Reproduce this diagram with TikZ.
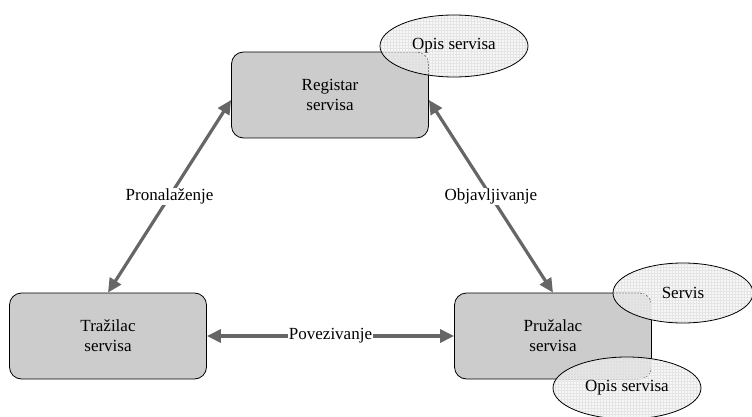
\documentclass[tikz,border=0pt]{standalone}
\usepackage{fontspec}
\setmainfont{Liberation Serif}
\usetikzlibrary{arrows.meta, patterns, positioning, shapes.geometric}
\definecolor{boxgray}{rgb}{0.8, 0.8, 0.8}
\definecolor{arrowgray}{rgb}{0.4, 0.4, 0.4}
\definecolor{partgray}{rgb}{0.94, 0.94, 0.94}

\begin{document}
\begin{tikzpicture}[x=1pt, y=-1pt, font=\fontsize{17}{20}\selectfont,
		role/.style={draw, rounded corners=12pt, fill=boxgray, line width=0.8pt, minimum width=197pt, minimum height=86pt, align=center},
		part/.style={ellipse, draw, fill=partgray, fill opacity=0.55, text opacity=1, line width=0.8pt, inner sep=0pt, minimum width=148pt, minimum height=62pt, preaction={pattern=grid, pattern color=gray!30}},
		link/.style={{Triangle[length=14pt, width=13pt]}-{Triangle[length=14pt, width=13pt]}, arrowgray, line width=3.2pt},
		tag/.style={fill=white, text=black, inner sep=1pt}]
		\useasboundingbox (0,0) rectangle (752,417);
		% roles
		\node [role] (reg) at (330,95) {Registar\\servisa};
		\node [role] (traz) at (108,336) {Tražilac\\servisa};
		\node [role] (pruz) at (553,336) {Pružalac\\servisa};
		
		% parts lying over the roles
		\node [part] (regopis) at (454,46) {Opis servisa};
		\node [part, minimum width=140pt, minimum height=60pt] (servis) at (683,293) {Servis};
		\node [part] (pruzopis) at (627,388) {Opis servisa};
		
		% links:
		\draw [link] (traz.north)--([yshift=-5pt]reg.west) node [tag, midway] {Pronalaženje};
		\draw [link] ([yshift=-5pt]reg.east)--(pruz.north) node [tag, midway] {Objavljivanje};
		\draw [link] (traz.east)--(pruz.west) node [tag, midway] {Povezivanje};
	\end{tikzpicture}
\end{document}
